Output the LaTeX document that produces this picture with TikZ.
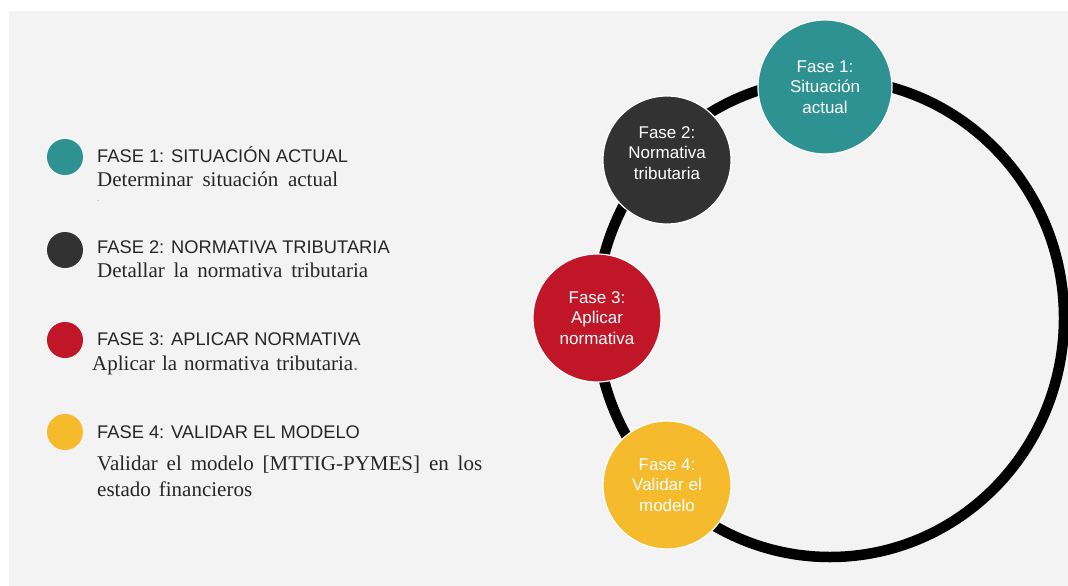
\documentclass[tikz,border=0pt]{standalone}
\usepackage{fontspec}
\setmainfont{Liberation Serif}
\setsansfont{Liberation Sans}
\definecolor{bg}{RGB}{243,243,243}
\definecolor{txt}{RGB}{38,38,38}
\definecolor{teal1}{RGB}{46,146,146}
\definecolor{dark2}{RGB}{50,50,50}
\definecolor{red3}{RGB}{193,22,40}
\definecolor{yel4}{RGB}{246,186,45}
\begin{document}
\begin{tikzpicture}[x=1pt,y=-1pt,
  phase/.style={circle, inner sep=0pt, minimum size=128pt, draw=white,
    line width=1.2pt, text=white, align=center,
    font=\sffamily\fontsize{17}{20.5}\selectfont},
  phasetext/.style={text=white, align=center, inner sep=0pt,
    font=\sffamily\fontsize{17}{20.5}\selectfont},
  bullet/.style={circle, inner sep=0pt, minimum size=36pt},
  head/.style={anchor=base west, inner sep=0pt,
    font=\sffamily\fontsize{18.3}{21}\selectfont, text=txt},
  desc/.style={anchor=base west, inner sep=0pt,
    font=\rmfamily\fontsize{21}{24}\selectfont, text=txt}]

% page and grey panel
\useasboundingbox (0,0) rectangle (1068,586);
\fill[white] (0,0) rectangle (1068,586);
\fill[bg] (9,11) rectangle (1068,586);

% cycle ring
\coordinate (ringc) at (830,318);
\draw[line width=10.5pt, black] (ringc) ellipse [x radius=234, y radius=239];

% phase circles on the ring
\node[phase, fill=teal1, minimum size=134pt] (f1) at (825,87) {Fase 1:\\Situación\\actual};
\node[phase, fill=dark2] (f2) at (667,160) {};
\node[phasetext] (f2t) at (667,153) {Fase 2:\\Normativa\\tributaria};
\node[phase, fill=red3] (f3) at (597,318) {Fase 3:\\Aplicar\\normativa};
\node[phase, fill=yel4] (f4) at (667,485) {Fase 4:\\Validar el\\modelo};

% legend
\node[bullet, fill=teal1] (b1) at (65,157) {};
\node[bullet, fill=dark2] (b2) at (65,250) {};
\node[bullet, fill=red3]  (b3) at (65,340) {};
\node[bullet, fill=yel4]  (b4) at (65,432) {};

\node[head] (h1) at (97,162) {FASE 1: SITUACIÓN ACTUAL};
\node[desc] (d1) at (97,186) {\makebox[241pt][s]{Determinar situación actual}};
\node[anchor=base west, inner sep=0pt, text=gray, font=\rmfamily\fontsize{8}{8}\selectfont] (d1dot) at (97,201) {.};

\node[head] (h2) at (97,253) {FASE 2: NORMATIVA TRIBUTARIA};
\node[desc] (d2) at (97,277) {\makebox[271pt][s]{Detallar la normativa tributaria}};

\node[head] (h3) at (97,345) {FASE 3: APLICAR NORMATIVA};
\node[desc] (d3) at (92,370) {\makebox[261pt][s]{Aplicar la normativa tributaria}\textcolor{gray}{.}};

\node[head] (h4) at (97,438) {FASE 4: VALIDAR EL MODELO};
\node[desc] (d4a) at (97,470) {\makebox[385pt][s]{Validar el modelo [MTTIG-PYMES] en los}};
\node[desc] (d4b) at (97,496) {\makebox[155pt][s]{estado financieros}};
\end{tikzpicture}
\end{document}
